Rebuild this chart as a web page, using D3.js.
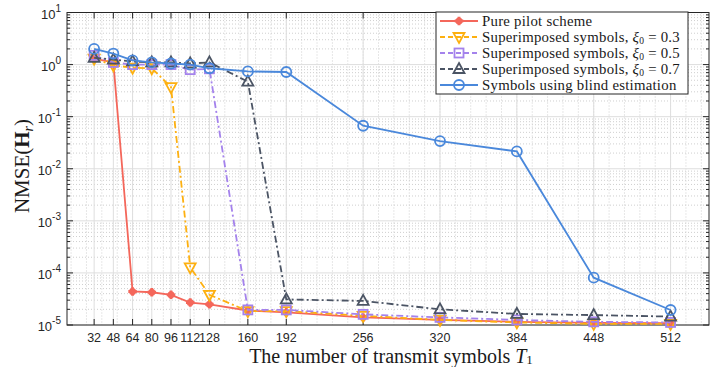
<!DOCTYPE html>
<html>
<head>
<meta charset="utf-8">
<script src="https://cdn.jsdelivr.net/npm/d3@7"></script>
<style>
  body { margin: 0; background: #fff; }
  svg { display: block; }
</style>
</head>
<body>
<svg id="chart" width="712" height="367"></svg>
<script>
// T1 values on the x axis (also the tick labels)
var T1 = [32, 48, 64, 80, 96, 112, 128, 160, 192, 256, 320, 384, 448, 512];

var pilotScheme = [1.3, 1.1, 4.4e-5, 4.25e-5, 3.8e-5, 2.7e-5, 2.5e-5, 1.9e-5, 1.75e-5, 1.4e-5, 1.25e-5, 1.15e-5, 1.1e-5, 1.08e-5];
var superXi03 = [1.3, 0.97, 0.87, 0.85, 0.37, 1.28e-4, 3.8e-5, 1.85e-5, 1.85e-5, 1.5e-5, 1.25e-5, 1.12e-5, 1.05e-5, 1.05e-5];
var superXi05 = [1.5, 1.1, 1.0, 1.0, 1.0, 0.8, 0.83, 1.95e-5, 1.95e-5, 1.6e-5, 1.4e-5, 1.25e-5, 1.15e-5, 1.12e-5];
var superXi07 = [1.35, 1.25, 1.15, 1.1, 1.1, 1.05, 1.1, 0.47, 3.1e-5, 2.9e-5, 2.0e-5, 1.63e-5, 1.55e-5, 1.45e-5];
var blindEst = [2.0, 1.63, 1.2, 1.1, 1.05, 1.0, 0.85, 0.74, 0.72, 0.067, 0.034, 0.0215, 8.1e-5, 1.94e-5];

var yDecades = [-5, -4, -3, -2, -1, 0, 1];

var LEFT = 67, RIGHT = 709, TOP = 12.5, BOTTOM = 325;
var TICK = 6, MINOR_TICK = 3;
var SERIF = "'Liberation Serif', 'Times New Roman', serif";

var series = [
  { label: "Pure pilot scheme", values: pilotScheme, color: "#f4675b", dash: null, marker: "star" },
  { label: "Superimposed symbols, ", xi: "0.3", values: superXi03, color: "#fdb010", dash: "7,3,2,3", marker: "tridown" },
  { label: "Superimposed symbols, ", xi: "0.5", values: superXi05, color: "#a482ec", dash: "7,3,2,3", marker: "square" },
  { label: "Superimposed symbols, ", xi: "0.7", values: superXi07, color: "#4b5464", dash: "7,3,2,3", marker: "triup" },
  { label: "Symbols using blind estimation", values: blindEst, color: "#4a88db", dash: null, marker: "circle" }
];

var svg = d3.select("#chart");

var x = d3.scaleLinear().domain([9.4, 544]).range([LEFT, RIGHT]);
var y = d3.scaleLog().domain([1e-5, 10]).range([BOTTOM, TOP]);

// grid
var grid = svg.append("g").classed("grid", true);

var minorX = d3.range(12.8, 544, 12.8);
grid.selectAll("line.minorX").data(minorX).enter().append("line")
  .attr("x1", function (d) { return x(d); })
  .attr("x2", function (d) { return x(d); })
  .attr("y1", TOP).attr("y2", BOTTOM)
  .style("stroke", "#cfcfcf").style("stroke-width", 1).style("stroke-dasharray", "1,2");

var minorY = [];
yDecades.slice(0, -1).forEach(function (e) {
  for (var k = 2; k <= 9; k++) minorY.push(k * Math.pow(10, e));
});
grid.selectAll("line.minorY").data(minorY).enter().append("line")
  .attr("x1", LEFT).attr("x2", RIGHT)
  .attr("y1", function (d) { return y(d); })
  .attr("y2", function (d) { return y(d); })
  .style("stroke", "#cfcfcf").style("stroke-width", 1).style("stroke-dasharray", "1,2");

grid.selectAll("line.majorX").data(T1).enter().append("line")
  .attr("x1", function (d) { return x(d); })
  .attr("x2", function (d) { return x(d); })
  .attr("y1", TOP).attr("y2", BOTTOM)
  .style("stroke", "#dedede").style("stroke-width", 1);

grid.selectAll("line.majorY").data(yDecades).enter().append("line")
  .attr("x1", LEFT).attr("x2", RIGHT)
  .attr("y1", function (d) { return y(Math.pow(10, d)); })
  .attr("y2", function (d) { return y(Math.pow(10, d)); })
  .style("stroke", "#dedede").style("stroke-width", 1);

// ticks (inside, on all four sides)
var ticks = svg.append("g").style("stroke", "#262626").style("stroke-width", 1);
T1.forEach(function (t) {
  ticks.append("line").attr("x1", x(t)).attr("x2", x(t)).attr("y1", BOTTOM).attr("y2", BOTTOM - TICK);
  ticks.append("line").attr("x1", x(t)).attr("x2", x(t)).attr("y1", TOP).attr("y2", TOP + TICK);
});
yDecades.forEach(function (e) {
  var yy = y(Math.pow(10, e));
  ticks.append("line").attr("x1", LEFT).attr("x2", LEFT + TICK).attr("y1", yy).attr("y2", yy);
  ticks.append("line").attr("x1", RIGHT).attr("x2", RIGHT - TICK).attr("y1", yy).attr("y2", yy);
});
minorY.forEach(function (v) {
  var yy = y(v);
  ticks.append("line").attr("x1", LEFT).attr("x2", LEFT + MINOR_TICK).attr("y1", yy).attr("y2", yy);
  ticks.append("line").attr("x1", RIGHT).attr("x2", RIGHT - MINOR_TICK).attr("y1", yy).attr("y2", yy);
});

svg.append("rect")
  .attr("x", LEFT).attr("y", TOP)
  .attr("width", RIGHT - LEFT).attr("height", BOTTOM - TOP)
  .style("fill", "none").style("stroke", "#262626").style("stroke-width", 1);

// tick labels
svg.append("g").selectAll("text").data(T1).enter().append("text")
  .attr("x", function (d) { return x(d); })
  .attr("y", 342)
  .attr("text-anchor", "middle")
  .style("font", "12.5px 'Liberation Sans', Arial, sans-serif")
  .style("fill", "#262626")
  .text(function (d) { return d; });

var yLabels = svg.append("g").selectAll("text").data(yDecades).enter().append("text")
  .attr("x", 61)
  .attr("y", function (d) { return y(Math.pow(10, d)) + 6; })
  .attr("text-anchor", "end")
  .style("font", "13px 'Liberation Sans', Arial, sans-serif")
  .style("fill", "#262626");
yLabels.append("tspan").text("10");
yLabels.append("tspan").attr("dy", -7).style("font-size", "10px").text(function (d) { return d; });

// series
var line = d3.line()
  .x(function (d, i) { return x(T1[i]); })
  .y(function (d) { return y(d); });

function drawMarker(g, type, color, cx, cy) {
  if (type === "circle") {
    g.append("circle").attr("cx", cx).attr("cy", cy).attr("r", 5)
      .style("fill", "none").style("stroke", color).style("stroke-width", 1.8);
  } else if (type === "square") {
    g.append("rect").attr("x", cx - 4.5).attr("y", cy - 4.5).attr("width", 9).attr("height", 9)
      .style("fill", "none").style("stroke", color).style("stroke-width", 1.8);
  } else if (type === "triup") {
    g.append("path").attr("d", "M" + cx + "," + (cy - 6) + "L" + (cx + 5.5) + "," + (cy + 4) + "L" + (cx - 5.5) + "," + (cy + 4) + "Z")
      .style("fill", "none").style("stroke", color).style("stroke-width", 1.8);
  } else if (type === "tridown") {
    g.append("path").attr("d", "M" + cx + "," + (cy + 6) + "L" + (cx + 5.5) + "," + (cy - 4) + "L" + (cx - 5.5) + "," + (cy - 4) + "Z")
      .style("fill", "none").style("stroke", color).style("stroke-width", 1.8);
  } else {
    g.append("path").attr("d", d3.symbol().type(d3.symbolCross).size(40)())
      .attr("transform", "translate(" + cx + "," + cy + ")")
      .style("fill", color);
    g.append("circle").attr("cx", cx).attr("cy", cy).attr("r", 3.5).style("fill", color);
  }
}

var plot = svg.append("g");
series.forEach(function (s) {
  plot.append("path")
    .datum(s.values)
    .attr("d", line)
    .style("fill", "none")
    .style("stroke", s.color)
    .style("stroke-width", 1.8)
    .style("stroke-dasharray", s.dash);
  var mg = plot.append("g");
  s.values.forEach(function (v, i) {
    drawMarker(mg, s.marker, s.color, x(T1[i]), y(v));
  });
});

// legend
var legend = svg.append("g").attr("transform", "translate(436,12)");
legend.append("rect")
  .attr("x", 0).attr("y", 0).attr("width", 252).attr("height", 82)
  .style("fill", "#fff").style("stroke", "#262626").style("stroke-width", 1);

series.forEach(function (s, i) {
  var ry = 9 + i * 16;
  legend.append("line")
    .attr("x1", 4).attr("x2", 42).attr("y1", ry).attr("y2", ry)
    .style("stroke", s.color).style("stroke-width", 1.8)
    .style("stroke-dasharray", s.dash ? "5,3" : null);
  drawMarker(legend, s.marker, s.color, 23, ry);
  var t = legend.append("text")
    .attr("x", 46).attr("y", ry + 5)
    .style("font", "14.8px " + SERIF)
    .style("letter-spacing", "0.25px")
    .style("fill", "#1a1a1a");
  t.append("tspan").text(s.label);
  if (s.xi) {
    t.append("tspan").style("font-style", "italic").text("\u03be");
    t.append("tspan").attr("dy", 1.5).style("font-size", "9.5px").text("0");
    t.append("tspan").attr("dy", -1.5).text(" = " + s.xi);
  }
});

// axis titles
var xt = svg.append("text")
  .attr("x", 391)
  .attr("y", 362.5)
  .attr("text-anchor", "middle")
  .style("font", "20px " + SERIF)
  .style("fill", "#1a1a1a");
xt.append("tspan").text("The number of transmit symbols ");
xt.append("tspan").style("font-style", "italic").text("T");
xt.append("tspan").attr("dy", 1.5).style("font-size", "13px").text("1");

var yt = svg.append("text")
  .attr("transform", "translate(29,166) rotate(-90)")
  .attr("text-anchor", "middle")
  .style("font", "21px " + SERIF)
  .style("fill", "#1a1a1a");
yt.append("tspan").text("NMSE(");
yt.append("tspan").style("font-weight", "bold").text("H");
yt.append("tspan").attr("dy", 4).style("font-style", "italic").style("font-size", "14px").text("r");
yt.append("tspan").attr("dy", -4).text(")");
</script>
</body>
</html>
